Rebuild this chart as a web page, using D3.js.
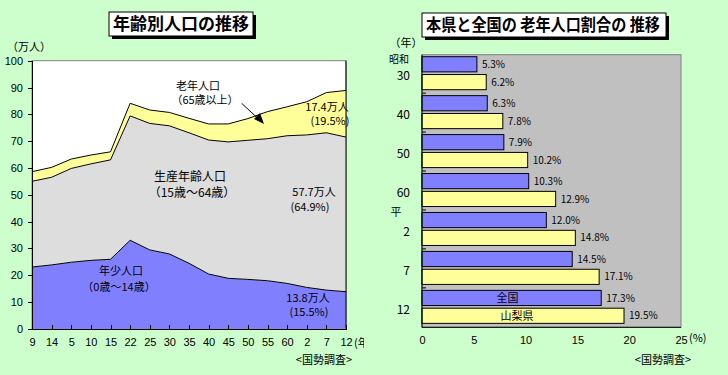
<!DOCTYPE html>
<html lang="ja">
<head>
<meta charset="UTF-8">
<title>年齢別人口の推移</title>
<script src="https://d3js.org/d3.v7.min.js"></script>
<style>
  body{ margin:0; background:#ccffcc; }
  svg{ display:block; font-family:"Noto Sans CJK JP","Noto Sans",sans-serif; }
  text{ fill:#000; }
  .axis path,.axis line{ stroke:#000; shape-rendering:crispEdges; }
  .axis text{ font-size:11px; }
</style>
</head>
<body>
<script>
// ---- left chart data (万人) ----
var years   = ["9","14","5","10","15","22","25","30","35","40","45","50","55","60","2","7","12"];
var young   = [23.0,23.8,24.8,25.5,25.9,33.0,29.4,27.9,24.4,20.4,18.8,18.4,17.9,16.9,15.4,14.4,13.8];
var working = [32.0,32.7,35.0,36.0,37.1,46.4,47.2,47.8,48.7,50.0,50.9,51.9,53.0,55.1,56.9,58.7,57.7];
var elderly = [3.6,3.7,3.5,3.3,3.0,4.7,5.0,5.0,5.4,6.0,6.7,8.1,10.1,10.8,12.4,15.0,17.4];
var yTicks  = [0,10,20,30,40,50,60,70,80,90,100];

// ---- right chart data (%) ----
var barYears  = ["30","40","50","60","2","7","12"];
var nation    = [5.3,6.3,7.9,10.3,12.0,14.5,17.3];
var yamanashi = [6.2,7.8,10.2,12.9,14.8,17.1,19.5];
var xTicks    = [0,5,10,15,20,25];

var svg = d3.select("body").append("svg").attr("width",728).attr("height",375);

svg.append("defs").append("clipPath").attr("id","leftclip")
   .append("rect").attr("x",0).attr("y",0).attr("width",364).attr("height",375);

// title box helper
function titleBox(x, y, w, h, label, tl){
  svg.append("rect").attr("x",x+3).attr("y",y+3).attr("width",w).attr("height",h).attr("fill","#000");
  svg.append("rect").attr("x",x).attr("y",y).attr("width",w).attr("height",h)
     .attr("fill","#fff").attr("stroke","#000").attr("stroke-width",1);
  svg.append("text").attr("x",x+4).attr("y",y+h/2).attr("dy","0.36em")
     .attr("textLength",tl).attr("lengthAdjust","spacingAndGlyphs")
     .style("font-size","17px").style("font-weight","bold").text(label);
}

// ================= left: stacked area =================
var L = svg.append("g").attr("clip-path","url(#leftclip)");
var x = d3.scalePoint().domain(d3.range(years.length)).range([32,346]);
var y = d3.scaleLinear().domain([0,100]).range([328.7,60.7]);

var rows = years.map(function(d,i){ return {young:young[i], working:working[i], elderly:elderly[i]}; });
var series = d3.stack().keys(["young","working","elderly"])(rows);
var fills = {young:"#8080ff", working:"#dddddd", elderly:"#ffff99"};

L.append("rect").attr("x",32).attr("y",60.7).attr("width",314).attr("height",268)
 .attr("fill","#fff").attr("stroke","#808080");

var area = d3.area().x(function(d,i){ return x(i); })
  .y0(function(d){ return y(d[0]); }).y1(function(d){ return y(d[1]); });
var line = d3.line().x(function(d,i){ return x(i); }).y(function(d){ return y(d[1]); });

L.selectAll("path.area").data(series).enter().append("path")
 .attr("class","area").attr("d",area).attr("fill",function(s){ return fills[s.key]; });
L.selectAll("path.edge").data(series).enter().append("path")
 .attr("class","edge").attr("d",line).attr("fill","none").attr("stroke","#000").attr("stroke-width",1);

L.append("line").attr("x1",346).attr("x2",346).attr("y1",60.7).attr("y2",328.7).attr("stroke","#000");

L.append("g").attr("class","axis").attr("transform","translate(32,0)")
 .call(d3.axisLeft(y).tickValues(yTicks).tickSize(4).tickPadding(5))
 .call(function(g){ g.select(".domain").attr("d","M0,60.7V328.7"); });

L.append("g").attr("class","axis").attr("transform","translate(0,328.7)")
 .call(d3.axisBottom(x).tickFormat(function(i){ return years[i]; }).tickSize(-4).tickPadding(10))
 .call(function(g){ g.selectAll(".tick line").filter(function(d){ return d===0||d===years.length-1; }).remove(); });

L.append("text").attr("x",354).attr("y",343).attr("dy","0.36em").style("font-size","11px").text("(年)");
L.append("text").attr("x",7).attr("y",47).attr("dy","0.36em").style("font-size","11px").text("（万人）");
L.append("text").attr("x",352).attr("y",360).attr("dy","0.36em").attr("text-anchor","end").style("font-size","11px").text("<国勢調査>");

function note(g, cx, cy, txt, size){
  g.append("text").attr("x",cx).attr("y",cy).attr("dy","0.36em").attr("text-anchor","middle")
   .style("font-size",size+"px").text(txt);
}
note(L,198,86,"老年人口",11);
note(L,205,100.5,"（65歳以上）",11);
note(L,190,177,"生産年齢人口",12);
note(L,192,192.5,"（15歳～64歳）",12);
note(L,121,271,"年少人口",11);
note(L,119,287,"（0歳～14歳）",11);
note(L,327,107,"17.4万人",11);
note(L,330,121.5,"(19.5%)",11);
note(L,314,192.5,"57.7万人",11);
note(L,310,207,"(64.9%)",11);
note(L,308,298,"13.8万人",11);
note(L,309,312.5,"(15.5%)",11);

// arrow
L.append("line").attr("x1",241.7).attr("y1",103.3).attr("x2",258).attr("y2",118.5).attr("stroke","#000");
L.append("path").attr("d","M264,124 L254,119 L260,113 Z").attr("fill","#000");

titleBox(109,12,144,24,"年齢別人口の推移",136);

// ================= right: horizontal bars =================
var R = svg.append("g");
var xb = d3.scaleLinear().domain([0,25]).range([422,681]);
var yb = d3.scaleBand().domain(d3.range(barYears.length)).range([54.7,327.3]).paddingInner(0).paddingOuter(0);
var sub = d3.scaleBand().domain(["nation","pref"]).range([2,35]).paddingInner(0.15);

R.append("rect").attr("x",422).attr("y",54.7).attr("width",259).attr("height",272.6)
 .attr("fill","#c0c0c0").attr("stroke","#808080");

var grp = R.selectAll("g.grp").data(barYears).enter().append("g").attr("class","grp")
  .attr("transform",function(d,i){ return "translate(0,"+yb(i)+")"; });

grp.append("rect").attr("x",xb(0)).attr("y",sub("nation")).attr("height",sub.bandwidth())
   .attr("width",function(d,i){ return xb(nation[i])-xb(0); })
   .attr("fill","#8080ff").attr("stroke","#000");
grp.append("rect").attr("x",xb(0)).attr("y",sub("pref")).attr("height",sub.bandwidth())
   .attr("width",function(d,i){ return xb(yamanashi[i])-xb(0); })
   .attr("fill","#ffff99").attr("stroke","#000");

grp.append("text").attr("x",function(d,i){ return xb(nation[i])+5; })
   .attr("y",sub("nation")+sub.bandwidth()/2).attr("dy","0.36em").style("font-size","10px")
   .text(function(d,i){ return nation[i].toFixed(1)+"%"; });
grp.append("text").attr("x",function(d,i){ return xb(yamanashi[i])+5; })
   .attr("y",sub("pref")+sub.bandwidth()/2).attr("dy","0.36em").style("font-size","10px")
   .text(function(d,i){ return yamanashi[i].toFixed(1)+"%"; });

grp.append("text").attr("x",410).attr("y",yb.bandwidth()/2+1.5).attr("dy","0.36em")
   .attr("text-anchor","end").style("font-size","12px").text(function(d){ return d; });

// group boundary ticks (inside)
R.selectAll("line.gt").data(d3.range(1,barYears.length)).enter().append("line")
 .attr("x1",422).attr("x2",426).attr("y1",function(i){ return yb(i)-0.5; }).attr("y2",function(i){ return yb(i)-0.5; })
 .attr("stroke","#000");

var last = barYears.length-1;
R.append("text").attr("x",(xb(0)+xb(nation[last]))/2-4).attr("y",yb(last)+sub("nation")+sub.bandwidth()/2)
 .attr("dy","0.36em").attr("text-anchor","middle").style("font-size","11px").text("全国");
R.append("text").attr("x",(xb(0)+xb(yamanashi[last]))/2-6).attr("y",yb(last)+sub("pref")+sub.bandwidth()/2)
 .attr("dy","0.36em").attr("text-anchor","middle").style("font-size","11px").text("山梨県");

R.append("g").attr("class","axis").attr("transform","translate(0,327.3)")
 .call(d3.axisBottom(xb).tickValues(xTicks).tickSize(0).tickPadding(9))
 .call(function(g){ g.select(".domain").remove(); });
R.append("line").attr("x1",422).attr("x2",681).attr("y1",327.3).attr("y2",327.3).attr("stroke","#000");
R.append("line").attr("x1",422).attr("x2",422).attr("y1",54.7).attr("y2",327.3).attr("stroke","#000");

R.append("text").attr("x",406).attr("y",43.5).attr("dy","0.36em").attr("text-anchor","middle").style("font-size","11px").text("（年）");
R.append("text").attr("x",399).attr("y",59.5).attr("dy","0.36em").attr("text-anchor","middle").style("font-size","10px").text("昭和");
R.append("text").attr("x",396).attr("y",212).attr("dy","0.36em").attr("text-anchor","middle").style("font-size","11px").text("平");
R.append("text").attr("x",689).attr("y",338).attr("dy","0.36em").style("font-size","11px").text("(%)");
R.append("text").attr("x",691).attr("y",360).attr("dy","0.36em").attr("text-anchor","end").style("font-size","11px").text("<国勢調査>");

titleBox(422,13,244,24,"本県と全国の 老年人口割合の 推移",234);
</script>
</body>
</html>
